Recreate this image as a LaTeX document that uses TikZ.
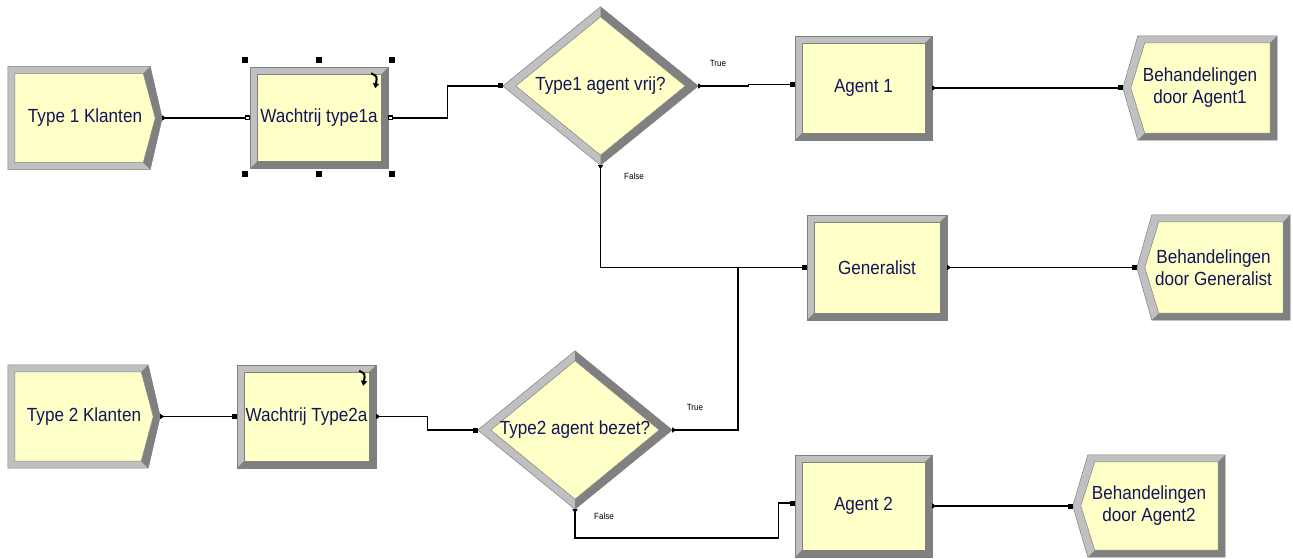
\documentclass[tikz,border=0pt]{standalone}
\usepackage{fontspec}
\setmainfont{Liberation Sans}[FakeStretch=0.9]
\usetikzlibrary{calc,arrows.meta}
\pgfdeclarelayer{background}
\pgfsetlayers{background,main}

\definecolor{modfill}{RGB}{255,255,200}
\definecolor{bevlite}{RGB}{192,192,192}
\definecolor{bevdark}{RGB}{128,128,128}
\definecolor{modtext}{RGB}{20,20,90}

\tikzset{
  module/.style 2 args={draw=none, inner sep=0pt, minimum width=#1, minimum height=#2,
    text=modtext, font=\fontsize{19}{22}\selectfont, align=center},
  lab/.style={font=\fontsize{9}{10}\selectfont, text=black, inner sep=0pt},
  conn/.style={draw=black, line width=1.2pt},
  flow/.style={{Triangle[reversed,length=4pt,width=5pt]}-{Square[length=5pt,width=5pt]}},
}

% process / queue box with raised bevel
\newcommand\RectModule[1]{%
  \begin{pgfonlayer}{background}
    \fill[bevlite] (#1.north west) rectangle (#1.south east);
    \fill[bevdark] (#1.north east) -- (#1.south east) -- (#1.south west)
      -- ($(#1.south west)+(7,-7)$) -- ($(#1.south east)+(-7,-7)$) -- ($(#1.north east)+(-7,7)$) -- cycle;
    \filldraw[fill=modfill, draw=bevdark, line width=0.5pt]
      ($(#1.north west)+(7,7)$) rectangle ($(#1.south east)+(-7,-7)$);
    \draw[bevdark, line width=0.5pt] (#1.north west) rectangle (#1.south east);
  \end{pgfonlayer}}

% arrival source: box with a chevron on the right
\newcommand\CreateModule[1]{%
  \begin{pgfonlayer}{background}
    \fill[bevlite] (#1.north west) -- ($(#1.north east)+(-12,0)$) -- (#1.east)
      -- ($(#1.south east)+(-12,0)$) -- (#1.south west) -- cycle;
    \fill[bevdark] ($(#1.north east)+(-12,0)$) -- (#1.east) -- ($(#1.south east)+(-12,0)$)
      -- ($(#1.south east)+(-19,-7)$) -- ($(#1.east)+(-7,0)$) -- ($(#1.north east)+(-19,7)$) -- cycle;
    \filldraw[fill=modfill, draw=bevdark, line width=0.5pt]
      ($(#1.north west)+(7,7)$) -- ($(#1.north east)+(-19,7)$) -- ($(#1.east)+(-7,0)$)
      -- ($(#1.south east)+(-19,-7)$) -- ($(#1.south west)+(7,-7)$) -- cycle;
    \draw[bevdark, line width=0.5pt] (#1.north west) -- ($(#1.north east)+(-12,0)$) -- (#1.east)
      -- ($(#1.south east)+(-12,0)$) -- (#1.south west) -- cycle;
  \end{pgfonlayer}}

% departure sink: box with a notch on the left
\newcommand\DisposeModule[1]{%
  \begin{pgfonlayer}{background}
    \fill[bevlite] ($(#1.north west)+(15,0)$) -- (#1.north east) -- (#1.south east)
      -- ($(#1.south west)+(15,0)$) -- (#1.west) -- cycle;
    \fill[bevdark] (#1.north east) -- (#1.south east) -- ($(#1.south west)+(15,0)$)
      -- ($(#1.south west)+(22,-7)$) -- ($(#1.south east)+(-7,-7)$) -- ($(#1.north east)+(-7,7)$) -- cycle;
    \filldraw[fill=modfill, draw=bevdark, line width=0.5pt]
      ($(#1.north west)+(22,7)$) -- ($(#1.north east)+(-7,7)$) -- ($(#1.south east)+(-7,-7)$)
      -- ($(#1.south west)+(22,-7)$) -- ($(#1.west)+(8,0)$) -- cycle;
    \draw[bevdark, line width=0.5pt] ($(#1.north west)+(15,0)$) -- (#1.north east) -- (#1.south east)
      -- ($(#1.south west)+(15,0)$) -- (#1.west) -- cycle;
  \end{pgfonlayer}}

% decision diamond
\newcommand\DecideModule[1]{%
  \begin{pgfonlayer}{background}
    \fill[bevlite] (#1.west) -- (#1.north) -- (#1.east) -- (#1.south) -- cycle;
    \fill[bevdark] (#1.north) -- (#1.east) -- (#1.south) -- ($(#1.south)+(0,-10)$)
      -- ($(#1.east)+(-13,0)$) -- ($(#1.north)+(0,10)$) -- cycle;
    \filldraw[fill=modfill, draw=bevdark, line width=0.5pt]
      ($(#1.north)+(0,10)$) -- ($(#1.east)+(-13,0)$) -- ($(#1.south)+(0,-10)$) -- ($(#1.west)+(13,0)$) -- cycle;
    \draw[bevdark, line width=0.5pt] (#1.west) -- (#1.north) -- (#1.east) -- (#1.south) -- cycle;
  \end{pgfonlayer}}

% small curled arrow marking a queue
\newcommand\QueueGlyph[1]{%
  \draw[line width=2pt, -{Triangle[length=5pt,width=6pt]}]
    ($(#1.north east)+(-17,6)$) .. controls ($(#1.north east)+(-11,9)$) .. ($(#1.north east)+(-13,21)$);}

\begin{document}
\begin{tikzpicture}[x=1pt, y=-1pt]
  \useasboundingbox (0,0) rectangle (1293,559);
  \begin{pgfonlayer}{background}
    \fill[white] (0,0) rectangle (1293,559);
  \end{pgfonlayer}

  % modules
  \node[module={154pt}{103pt}] (k1) at (85,118) {Type 1 Klanten};
  \node[module={138pt}{101pt}] (wait1) at (319,118) {Wachtrij type1a};
  \node[module={195pt}{158pt}] (q1) at (600.5,86) {Type1 agent vrij?};
  \node[module={137pt}{104pt}] (agent1) at (863.5,88) {Agent 1};
  \node[module={154pt}{104pt}] (d1) at (1200,88) {Behandelingen\\door Agent1};
  \node[module={140pt}{105pt}] (gen) at (877,267.5) {Generalist};
  \node[module={153pt}{105pt}] (dg) at (1213.5,267.5) {Behandelingen\\door Generalist};
  \node[module={152pt}{103pt}] (k2) at (84,416.5) {Type 2 Klanten};
  \node[module={139pt}{103pt}] (wait2) at (306.5,416.5) {Wachtrij Type2a};
  \node[module={194pt}{158pt}] (q2) at (575,430) {Type2 agent bezet?};
  \node[module={137pt}{102pt}] (agent2) at (863.5,506) {Agent 2};
  \node[module={152pt}{102pt}] (d2) at (1149,506) {Behandelingen\\door Agent2};

  \CreateModule{k1}
  \CreateModule{k2}
  \RectModule{wait1}
  \RectModule{wait2}
  \RectModule{agent1}
  \RectModule{gen}
  \RectModule{agent2}
  \DecideModule{q1}
  \DecideModule{q2}
  \DisposeModule{d1}
  \DisposeModule{dg}
  \DisposeModule{d2}

  \QueueGlyph{wait1}
  \QueueGlyph{wait2}

  % selection handles around the selected queue module
  \foreach \a/\dx/\dy in {north west/-5/-7, north/0/-7, north east/4/-7,
                          south west/-5/5, south/0/5, south east/4/5}
    \fill ($(wait1.\a)+(\dx,\dy)$) +(-3,-3) rectangle +(3,3);

  % branch labels
  \node[lab] (t1) at (718,63) {True};
  \node[lab] (f1) at (634,176) {False};
  \node[lab] (t2) at (695,407) {True};
  \node[lab] (f2) at (604,516) {False};

  % connectors
  \coordinate (merge) at (738,267.5);
  \draw[conn, {Triangle[reversed,length=4pt,width=5pt]}-{Square[open,length=5pt,width=5pt]}]
    (k1.east) -- (wait1.west);
  \draw[conn, {Square[open,length=5pt,width=5pt]}-{Square[length=5pt,width=5pt]}]
    (wait1.east) -- ++(59,0) |- (q1.west);
  \draw[conn, flow] (q1.east) -- ++(50,0) |- ($(agent1.west)+(0,-3.5)$);
  \draw[conn, flow] (agent1.east) -- (d1.west);
  \draw[conn, flow] (q1.south) |- (gen.west);
  \draw[conn, {Triangle[reversed,length=4pt,width=5pt]}-] (q2.east) -| (merge);
  \draw[conn, flow] (gen.east) -- (dg.west);
  \draw[conn, flow] (k2.east) -- (wait2.west);
  \draw[conn, flow] (wait2.east) -- ++(51,0) |- (q2.west);
  \draw[conn, flow] (q2.south) |- ($(agent2.west)+(-16,32)$) |- ($(agent2.west)+(0,-3)$);
  \draw[conn, flow] (agent2.east) -- (d2.west);
\end{tikzpicture}
\end{document}
